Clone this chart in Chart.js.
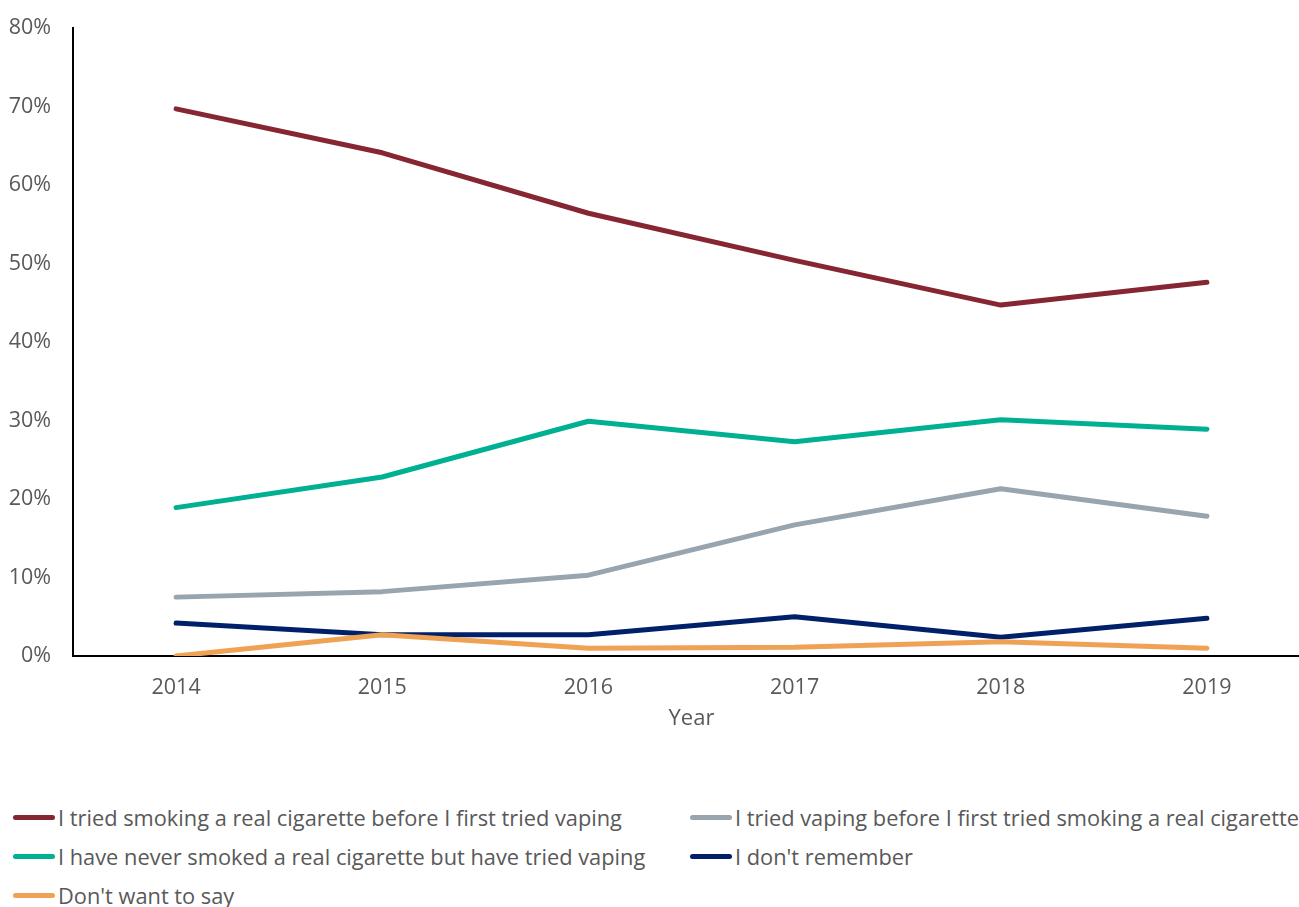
<!DOCTYPE html>
<html>
<head>
<meta charset="utf-8">
<script src="https://cdn.jsdelivr.net/npm/chart.js@4.4.1/dist/chart.umd.min.js"></script>
<style>
  html, body { margin: 0; padding: 0; background: #fff; overflow: hidden; }
  #wrap { position: relative; width: 1299px; height: 907px; overflow: hidden; }
  #chart { position: absolute; left: 0; top: 0; }
  #legend { position: absolute; left: 0; top: 0; font-family: "Open Sans", sans-serif; font-size: 21.8px; color: #595959; }
  .item { position: absolute; display: flex; align-items: center; white-space: nowrap; }
  .item .mark { width: 42px; height: 5px; border-radius: 3px; margin-right: 3px; }
</style>
</head>
<body>
<div id="wrap">
  <canvas id="chart" width="1310" height="740"></canvas>
  <div id="legend"></div>
</div>
<script>
const years = ["2014", "2015", "2016", "2017", "2018", "2019"];

const smokedFirst = [69.7, 64.1, 56.4, 50.4, 44.7, 47.6];
const vapedFirst = [7.5, 8.2, 10.3, 16.7, 21.3, 17.8];
const neverSmoked = [18.9, 22.8, 29.9, 27.3, 30.1, 28.9];
const dontRemember = [4.2, 2.7, 2.7, 5.0, 2.4, 4.8];
const dontSay = [0.0, 2.7, 1.0, 1.1, 1.8, 1.0];

const yTicks = [0, 10, 20, 30, 40, 50, 60, 70, 80];

const series = [
    { label: "I tried smoking a real cigarette before I first tried vaping", data: smokedFirst, color: "#862633" },
    { label: "I tried vaping before I first tried smoking a real cigarette", data: vapedFirst, color: "#98A4AE" },
    { label: "I have never smoked a real cigarette but have tried vaping", data: neverSmoked, color: "#00B092" },
    { label: "I don't remember", data: dontRemember, color: "#002169" },
    { label: "Don't want to say", data: dontSay, color: "#EFA154" },
];

// legend slots (two columns, like the original)
const legendPos = [
    { x: 13, y: 817 }, { x: 690, y: 817 },
    { x: 13, y: 856 }, { x: 690, y: 856 },
    { x: 13, y: 895 },
];

const textColor = "#595959";
const font = "'Open Sans', sans-serif";

new Chart(document.getElementById("chart"), {
    type: "line",
    data: {
        labels: years,
        datasets: series.map((s, i) => ({
            label: s.label,
            data: s.data,
            borderColor: s.color,
            backgroundColor: s.color,
            borderWidth: 5,
            pointRadius: 0,
            pointHoverRadius: 0,
            tension: 0,
            borderCapStyle: "round",
            borderJoinStyle: "round",
            order: series.length - i,
        }))
    },
    options: {
        responsive: false,
        animation: false,
        layout: { padding: { top: 28, right: 0, bottom: 0, left: 0 } },
        plugins: {
            legend: { display: false },
            tooltip: { enabled: false },
        },
        scales: {
            x: {
                offset: true,
                grid: { display: false, drawTicks: false },
                border: { display: true, color: "#000", width: 2 },
                ticks: { color: textColor, font: { family: font, size: 21.5 }, padding: 19 },
                title: { display: true, text: "Year", color: textColor, font: { family: font, size: 22 }, padding: { top: 0, bottom: 8 } },
                afterFit: (scale) => { scale.height = 84; scale.paddingLeft = 0; scale.paddingRight = 0; },
            },
            y: {
                min: 0,
                max: 80,
                afterBuildTicks: (scale) => { scale.ticks = yTicks.map(v => ({ value: v })); },
                grid: { display: false, drawTicks: false },
                border: { display: true, color: "#000", width: 2 },
                ticks: { color: textColor, font: { family: font, size: 21.5 }, padding: 22, callback: v => v + "%" },
                afterFit: (scale) => { scale.width = 73; scale.paddingTop = 0; scale.paddingBottom = 0; },
            }
        }
    }
});

// === Legend ===
const legendDiv = document.getElementById("legend");
legendDiv.innerHTML = series.map((s, i) => `
    <div class="item" style="left:${legendPos[i].x}px; top:${legendPos[i].y - 16}px; height:32px;">
        <span class="mark" style="background:${s.color}"></span><span>${s.label}</span>
    </div>
`).join("");
</script>
</body>
</html>
